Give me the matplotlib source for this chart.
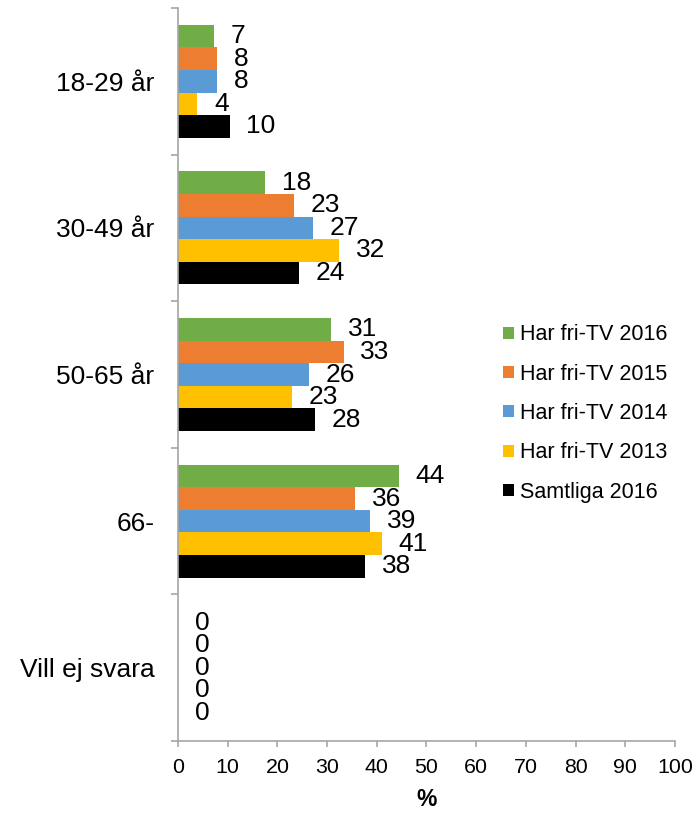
import matplotlib
matplotlib.use("Agg")
import matplotlib.pyplot as plt
import numpy as np

plt.rcParams['font.family'] = ['Liberation Sans', 'DejaVu Sans']

categories = ["18-29 år", "30-49 år", "50-65 år", "66-", "Vill ej svara"]
series_names = ["Har fri-TV 2016", "Har fri-TV 2015", "Har fri-TV 2014",
                "Har fri-TV 2013", "Samtliga 2016"]
fri_tv_2016 = [7.2, 17.6, 30.8, 44.4, 0]
fri_tv_2015 = [7.8, 23.3, 33.3, 35.6, 0]
fri_tv_2014 = [7.9, 27.2, 26.3, 38.6, 0]
fri_tv_2013 = [3.9, 32.4, 22.9, 41.0, 0]
samtliga_2016 = [10.4, 24.4, 27.6, 37.6, 0]
x_ticks = [0, 10, 20, 30, 40, 50, 60, 70, 80, 90, 100]
colors = ["#70AD47", "#ED7D31", "#5B9BD5", "#FFC000", "#000000"]

series = [fri_tv_2016, fri_tv_2015, fri_tv_2014, fri_tv_2013, samtliga_2016]

fig = plt.figure(figsize=(7.0, 8.13), dpi=100)
ax = fig.add_axes([178/700, 1-741/813, (675-178)/700, (741-8)/813])

n = len(series)
h = 0.154
ypos = np.arange(len(categories))
for j, (vals, name, col) in enumerate(zip(series, series_names, colors)):
    bars = ax.barh(ypos + (j - (n-1)/2) * h, vals, height=h, color=col,
                   label=name, edgecolor='none')
    ax.bar_label(bars, fmt='%.0f', padding=12, fontsize=19, color='black')

ax.set_xlim(0, 100)
ax.set_ylim(len(categories) - 0.5, -0.5)
ax.set_xticks(x_ticks)
ax.set_xticklabels([str(t) for t in x_ticks])
ax.set_yticks(ypos)
ax.set_yticklabels(categories, fontsize=19)
ax.set_yticks(np.arange(len(categories) + 1) - 0.5, minor=True)

spine_col = '#A6A6A6'
for s in ['top', 'right']:
    ax.spines[s].set_visible(False)
for s in ['left', 'bottom']:
    ax.spines[s].set_color(spine_col)
    ax.spines[s].set_linewidth(1.2)

ax.tick_params(axis='x', length=4, width=1.2, color=spine_col, labelsize=15.4, pad=8.5)
ax.tick_params(axis='y', which='major', length=0, pad=17)
ax.tick_params(axis='y', which='minor', length=5, width=1.2, color=spine_col)

ax.set_xlabel('%', fontsize=16.5, fontweight='bold', labelpad=8)

ax.legend(loc='center left', bbox_to_anchor=(503/700, 1-413.5/813),
          bbox_transform=fig.transFigure, frameon=False, fontsize=15.5,
          handlelength=0.5, handleheight=0.5, handletextpad=0.3,
          labelspacing=0.85, borderpad=0, borderaxespad=0)

fig.savefig('out.png', dpi=100)
